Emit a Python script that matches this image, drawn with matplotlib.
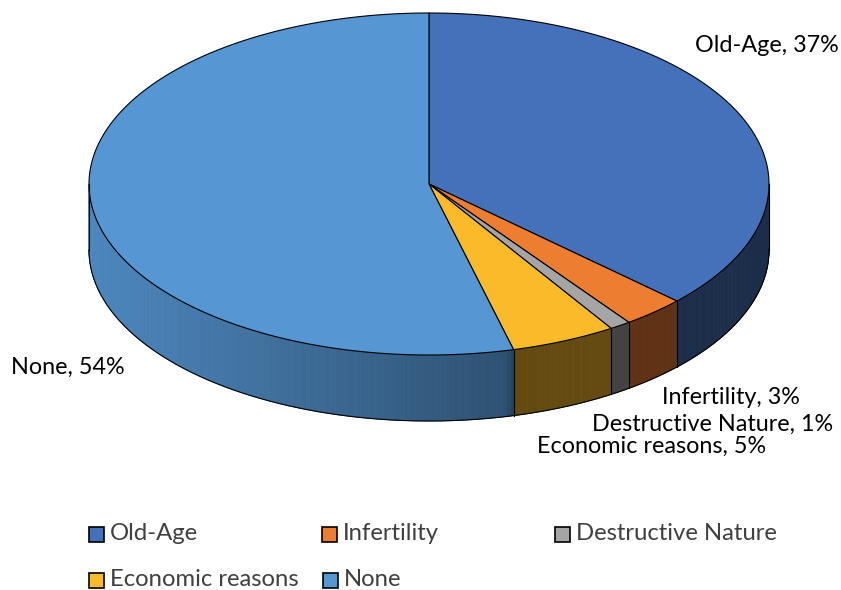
import numpy as np
import matplotlib
matplotlib.use('Agg')
import matplotlib.pyplot as plt
from matplotlib.patches import Polygon, Rectangle
from matplotlib.collections import PolyCollection
from matplotlib.colors import to_rgb

# Data
labels = ['Old-Age', 'Infertility', 'Destructive Nature', 'Economic reasons', 'None']
shares = [37, 3, 1, 5, 54]
colors = ['#4571BA', '#ED7D31', '#A5A5A5', '#FBBA2A', '#5596D3']

# Geometry of the 3D pie (pixel coords, y down)
cx, cy = 429, 184
a, b = 340, 171
depth = 66

plt.rcParams['font.family'] = ['Lato', 'DejaVu Sans']

fig = plt.figure(figsize=(8.41, 5.9), dpi=100)
ax = fig.add_axes([0, 0, 1, 1])
ax.set_xlim(0, 841)
ax.set_ylim(590, 0)
ax.axis('off')


def ell(t):
    return cx + a * np.sin(t), cy - b * np.cos(t)


def shade(x):
    # darker towards the right, like the Office 3D pie
    return np.interp(x, [89, 505, 515, 769], [0.9, 0.54, 0.4, 0.4])


edges = np.concatenate([[0], np.cumsum(shares)]) / sum(shares) * 2 * np.pi

# side walls (front half only)
for i in range(len(shares)):
    lo = max(edges[i], np.pi / 2)
    hi = min(edges[i + 1], 3 * np.pi / 2)
    if lo >= hi:
        continue
    ts = np.linspace(lo, hi, max(3, int((hi - lo) * 120)))
    xs, ys = ell(ts)
    quads, cols = [], []
    base = np.array(to_rgb(colors[i]))
    for j in range(len(ts) - 1):
        quads.append([(xs[j], ys[j]), (xs[j + 1], ys[j + 1]),
                      (xs[j + 1], ys[j + 1] + depth), (xs[j], ys[j] + depth)])
        cols.append(base * shade((xs[j] + xs[j + 1]) / 2))
    ax.add_collection(PolyCollection(quads, facecolors=cols, edgecolors=cols,
                                     linewidths=0.6))

# side outlines
ts = np.linspace(np.pi / 2, 3 * np.pi / 2, 300)
xs, ys = ell(ts)
ax.plot(xs, ys + depth, color='black', lw=0.8)
for t in list(edges) + [np.pi / 2, 3 * np.pi / 2]:
    if np.pi / 2 <= t <= 3 * np.pi / 2:
        x0, y0 = ell(t)
        ax.plot([x0, x0], [y0, y0 + depth], color='black', lw=0.8)

# top faces
for i in range(len(shares)):
    ts = np.linspace(edges[i], edges[i + 1], max(3, int((edges[i + 1] - edges[i]) * 100)))
    xs, ys = ell(ts)
    pts = [(cx, cy)] + list(zip(xs, ys))
    ax.add_patch(Polygon(pts, closed=True, facecolor=colors[i],
                         edgecolor='black', lw=0.8))

# data labels
lab_fs = 16.8
ax.text(695, 45, f'{labels[0]}, {shares[0]}%', fontsize=lab_fs, ha='left', va='center')
ax.text(800, 398, f'{labels[1]}, {shares[1]}%', fontsize=lab_fs, ha='right', va='center')
ax.text(833, 424, f'{labels[2]}, {shares[2]}%', fontsize=lab_fs, ha='right', va='center')
ax.text(766, 446, f'{labels[3]}, {shares[3]}%', fontsize=lab_fs, ha='right', va='center')
ax.text(11, 367, f'{labels[4]}, {shares[4]}%', fontsize=lab_fs, ha='left', va='center')

# legend
leg_pos = [(89, 534), (322, 534), (555, 534), (89, 580), (323, 580)]
for (lx, ly), lab, col in zip(leg_pos, labels, colors):
    ax.add_patch(Rectangle((lx, ly - 7.5), 15, 15, facecolor=col,
                           edgecolor='black', lw=1.2))
    ax.text(lx + 21, ly, lab, fontsize=17.2, ha='left', va='center', color='#404040')

fig.savefig('out.png', dpi=100)
